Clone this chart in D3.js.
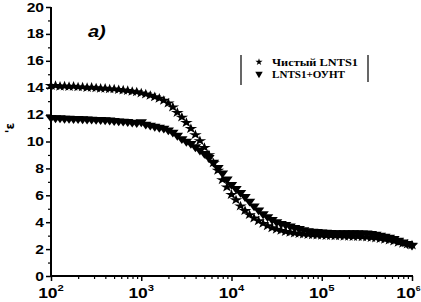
<!DOCTYPE html>
<html>
<head>
<meta charset="utf-8">
<script src="https://cdn.jsdelivr.net/npm/d3@7"></script>
<style>
  html, body { margin: 0; padding: 0; background: #fff; }
  svg { display: block; }
</style>
</head>
<body>
<div id="chart"></div>
<script>
// log10 of frequency (Hz) for every measured point
const logFreq = [
  2.00, 2.05, 2.10, 2.15, 2.20, 2.25, 2.30, 2.35, 2.40, 2.45,
  2.50, 2.55, 2.60, 2.65, 2.70, 2.75, 2.80, 2.85, 2.90, 2.95,
  3.00, 3.05, 3.10, 3.15, 3.20, 3.25, 3.30, 3.35, 3.40, 3.45,
  3.50, 3.55, 3.60, 3.65, 3.70, 3.75, 3.80, 3.85, 3.90, 3.95,
  4.00, 4.05, 4.10, 4.15, 4.20, 4.25, 4.30, 4.35, 4.40, 4.45,
  4.50, 4.55, 4.60, 4.65, 4.70, 4.75, 4.80, 4.85, 4.90, 4.95,
  5.00, 5.05, 5.10, 5.15, 5.20, 5.25, 5.30, 5.35, 5.40, 5.45,
  5.50, 5.55, 5.60, 5.65, 5.70, 5.75, 5.80, 5.85, 5.90, 5.95,
  6.00
]

// Чистый LNTS1 (stars)
const pureValues = [
  14.15, 14.15, 14.10, 14.12, 14.08, 14.10, 14.05, 14.05, 14.00, 14.02,
  13.98, 13.95, 13.95, 13.90, 13.90, 13.85, 13.82, 13.78, 13.72, 13.68,
  13.60, 13.52, 13.42, 13.32, 13.20, 13.05, 12.85, 12.55, 12.15, 11.80,
  11.40, 10.95, 10.50, 10.05, 9.55, 9.00, 8.40, 7.85, 7.15, 6.60,
  6.05, 5.65, 5.20, 4.85, 4.55, 4.30, 4.10, 3.90, 3.72, 3.58,
  3.47, 3.38, 3.30, 3.24, 3.18, 3.14, 3.10, 3.08, 3.06, 3.04,
  3.02, 3.00, 3.00, 2.98, 2.97, 2.95, 2.94, 2.93, 2.92, 2.90,
  2.88, 2.85, 2.82, 2.78, 2.72, 2.66, 2.58, 2.50, 2.43, 2.36,
  2.30
]

// LNTS1+ОУНТ (down triangles)
const cntValues = [
  11.78, 11.75, 11.75, 11.72, 11.72, 11.70, 11.70, 11.68, 11.66, 11.65,
  11.63, 11.62, 11.60, 11.58, 11.55, 11.52, 11.50, 11.47, 11.43, 11.40,
  11.45, 11.28, 11.20, 11.12, 11.05, 10.98, 10.85, 10.68, 10.45, 10.20,
  10.00, 9.85, 9.60, 9.35, 9.10, 8.80, 8.45, 8.05, 7.65, 7.20,
  6.80, 6.50, 6.20, 5.90, 5.55, 5.20, 4.90, 4.62, 4.40, 4.20,
  4.02, 3.90, 3.82, 3.70, 3.60, 3.52, 3.42, 3.35, 3.32, 3.30,
  3.27, 3.24, 3.22, 3.20, 3.20, 3.20, 3.20, 3.20, 3.20, 3.19,
  3.18, 3.15, 3.10, 3.02, 2.95, 2.87, 2.77, 2.65, 2.52, 2.40,
  2.28
]

const yTicks = [0, 2, 4, 6, 8, 10, 12, 14, 16, 18, 20]
const xTickExps = [2, 3, 4, 5, 6]
const legendLabels = ["Чистый LNTS1", "LNTS1+ОУНТ"]

const width = 421
const height = 302
const stretch = 1.25   // the original figure is stretched sideways

const svg = d3.select("#chart")
  .append("svg")
  .attr("width", width)
  .attr("height", height)

const x = d3.scaleLog().domain([1e2, 1e6]).range([51, 412])
const y = d3.scaleLinear().domain([0, 20]).range([276, 7])

const axisFont = "'Liberation Sans', Arial, sans-serif"

// Y axis
const yAxis = svg.append("g")
  .attr("transform", `translate(${x(1e2)},0)`)
  .call(d3.axisLeft(y).tickValues(yTicks).tickSize(5).tickFormat(""))
yAxis.select(".domain").attr("stroke-width", 2).attr("d", `M0,${y(20)}V${y(0)}`)
yAxis.selectAll(".tick line").attr("stroke-width", 1.5)

// minor y ticks
svg.append("g")
  .attr("transform", `translate(${x(1e2)},0)`)
  .call(d3.axisLeft(y).tickValues(d3.range(1, 20, 2)).tickSize(3).tickFormat(""))
  .call(g => g.select(".domain").remove())
  .selectAll(".tick line").attr("stroke-width", 1.2)

yTicks.forEach(v => {
  svg.append("text")
    .attr("transform", `translate(44,${y(v) + 4.5}) scale(${stretch},1)`)
    .attr("text-anchor", "end")
    .attr("font-family", axisFont)
    .attr("font-weight", "bold")
    .attr("font-size", "12.5px")
    .text(v)
})

// X axis
const xAxis = svg.append("g")
  .attr("transform", `translate(0,${y(0)})`)
  .call(d3.axisBottom(x).tickValues(xTickExps.map(e => Math.pow(10, e))).tickSize(5).tickFormat(""))
xAxis.select(".domain").attr("stroke-width", 2).attr("d", `M${x(1e2)},0H${x(1e6) + 1}`)
xAxis.selectAll(".tick line").attr("stroke-width", 1.5)

const minorX = []
xTickExps.slice(0, -1).forEach(e => {
  for (let k = 2; k <= 9; k++) minorX.push(k * Math.pow(10, e))
})
svg.append("g")
  .attr("transform", `translate(0,${y(0)})`)
  .call(d3.axisBottom(x).tickValues(minorX).tickSize(3).tickFormat(""))
  .call(g => g.select(".domain").remove())
  .selectAll(".tick line").attr("stroke-width", 1.2)

xTickExps.forEach((e, i) => {
  const last = i === xTickExps.length - 1
  const t = svg.append("text")
    .attr("transform", last
      ? `translate(420.5,298) scale(${stretch},1)`
      : `translate(${x(Math.pow(10, e))},298) scale(${stretch},1)`)
    .attr("text-anchor", last ? "end" : "middle")
    .attr("font-family", axisFont)
    .attr("font-weight", "bold")
    .attr("font-size", "14px")
  t.append("tspan").text("10")
  t.append("tspan").attr("dy", -7).attr("font-size", last ? "7px" : "9px").text(e)
})

// Y label
svg.append("text")
  .attr("transform", "translate(14,128) rotate(-90)")
  .attr("text-anchor", "middle")
  .attr("font-family", "'DejaVu Sans', sans-serif")
  .attr("font-weight", "bold")
  .attr("font-size", "12px")
  .text("'ε")

// panel label
svg.append("text")
  .attr("transform", `translate(88,37) scale(${stretch},1)`)
  .attr("font-family", axisFont)
  .attr("font-weight", "bold")
  .attr("font-style", "italic")
  .attr("font-size", "16px")
  .text("a)")

// Data points
const star = d3.symbol().type(d3.symbolStar).size(32)
const tri = d3.symbol().type(d3.symbolTriangle).size(36)

svg.append("g").selectAll("path")
  .data(pureValues)
  .join("path")
  .attr("d", star)
  .attr("transform", (d, i) => `translate(${x(Math.pow(10, logFreq[i]))},${y(d)}) scale(${stretch},1)`)
  .attr("fill", "#000")

svg.append("g").selectAll("path")
  .data(cntValues)
  .join("path")
  .attr("d", tri)
  .attr("transform", (d, i) => `translate(${x(Math.pow(10, logFreq[i]))},${y(d)}) rotate(180) scale(${stretch},1)`)
  .attr("fill", "#000")

// Legend
const legend = svg.append("g")
legend.append("line").attr("x1", 241).attr("x2", 241).attr("y1", 55).attr("y2", 85)
  .attr("stroke", "#000").attr("stroke-width", 1.2)
legend.append("line").attr("x1", 368).attr("x2", 368).attr("y1", 55).attr("y2", 82)
  .attr("stroke", "#000").attr("stroke-width", 1.2)
legend.append("path").attr("d", d3.symbol().type(d3.symbolStar).size(16))
  .attr("transform", "translate(259,62)")
legend.append("path").attr("d", d3.symbol().type(d3.symbolTriangle).size(24))
  .attr("transform", "translate(259,74) rotate(180)")

const legendWidths = [86, 73]
legendLabels.forEach((label, i) => {
  legend.append("text")
    .attr("x", 272)
    .attr("y", 65.5 + i * 12)
    .attr("font-family", "'Liberation Serif', 'Times New Roman', serif")
    .attr("font-weight", "bold")
    .attr("font-size", "11px")
    .attr("textLength", legendWidths[i])
    .attr("lengthAdjust", "spacingAndGlyphs")
    .text(label)
})
</script>
</body>
</html>
